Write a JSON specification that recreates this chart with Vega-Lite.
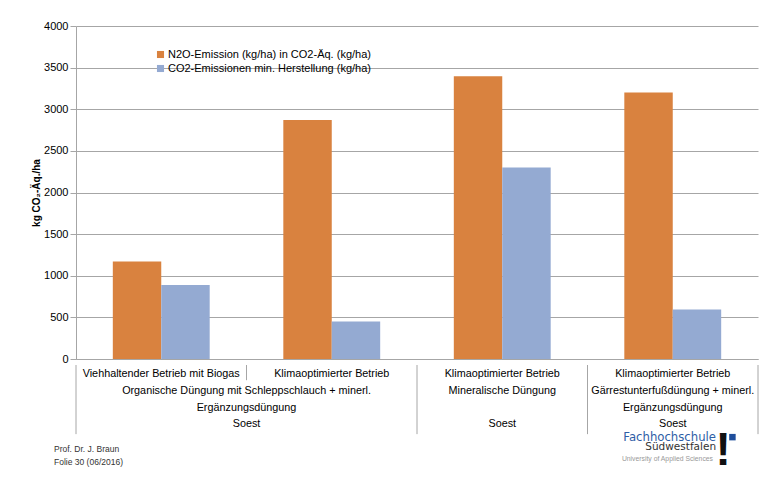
{
  "$schema": "https://vega.github.io/schema/vega-lite/v6.json",
  "padding": {"left": 31, "top": 20, "right": 10, "bottom": 2},
  "background": "white",
  "config": {
    "font": "Liberation Sans",
    "view": {"stroke": null},
    "concat": {"spacing": 0}
  },
  "vconcat": [
    {
      "width": 682,
      "height": 333,
      "data": {
        "values": [
          {"Gruppe": 1, "Serie": "N2O-Emission (kg/ha) in CO2-Äq. (kg/ha)", "Wert": 1170},
          {"Gruppe": 1, "Serie": "CO2-Emissionen min. Herstellung (kg/ha)", "Wert": 890},
          {"Gruppe": 2, "Serie": "N2O-Emission (kg/ha) in CO2-Äq. (kg/ha)", "Wert": 2870},
          {"Gruppe": 2, "Serie": "CO2-Emissionen min. Herstellung (kg/ha)", "Wert": 450},
          {"Gruppe": 3, "Serie": "N2O-Emission (kg/ha) in CO2-Äq. (kg/ha)", "Wert": 3395},
          {"Gruppe": 3, "Serie": "CO2-Emissionen min. Herstellung (kg/ha)", "Wert": 2300},
          {"Gruppe": 4, "Serie": "N2O-Emission (kg/ha) in CO2-Äq. (kg/ha)", "Wert": 3200},
          {"Gruppe": 4, "Serie": "CO2-Emissionen min. Herstellung (kg/ha)", "Wert": 595}
        ]
      },
      "mark": {"type": "bar"},
      "encoding": {
        "x": {
          "field": "Gruppe",
          "type": "ordinal",
          "scale": {"paddingInner": 0, "paddingOuter": 0},
          "axis": {"labels": false, "ticks": false, "title": null, "domainColor": "#a6a6a6", "domainWidth": 1}
        },
        "xOffset": {
          "field": "Serie",
          "type": "nominal",
          "sort": ["N2O-Emission (kg/ha) in CO2-Äq. (kg/ha)", "CO2-Emissionen min. Herstellung (kg/ha)"],
          "scale": {"paddingInner": 0, "paddingOuter": 0.76}
        },
        "y": {
          "field": "Wert",
          "type": "quantitative",
          "scale": {"domain": [0, 4000], "nice": false},
          "axis": {
            "title": "kg CO₂-Äq./ha",
            "titleFontSize": 10,
            "titleFontWeight": "bold",
            "titleColor": "#000000",
            "titlePadding": 2,
            "values": [0, 500, 1000, 1500, 2000, 2500, 3000, 3500, 4000],
            "format": "d",
            "labelFontSize": 11,
            "labelColor": "#000000",
            "labelPadding": 2,
            "tickSize": 6,
            "tickColor": "#a6a6a6",
            "domainColor": "#a6a6a6",
            "gridColor": "#a6a6a6",
            "grid": true
          }
        },
        "color": {
          "field": "Serie",
          "type": "nominal",
          "sort": ["N2O-Emission (kg/ha) in CO2-Äq. (kg/ha)", "CO2-Emissionen min. Herstellung (kg/ha)"],
          "scale": {"range": ["#d9823f", "#94aad2"]},
          "legend": {
            "title": null,
            "orient": "none",
            "legendX": 79,
            "legendY": 23,
            "symbolType": "square",
            "symbolSize": 50,
            "symbolStrokeWidth": 0,
            "labelFontSize": 11,
            "labelColor": "#000000",
            "labelOffset": 2,
            "labelLimit": 0,
            "rowPadding": 2
          }
        }
      }
    },
    {
      "width": 682,
      "height": 115,
      "layer": [
        {
          "data": {
            "values": [
              {"Grenze": 0, "von": 0.45, "bis": 4.59},
              {"Grenze": 1, "von": 0.45, "bis": 1.36},
              {"Grenze": 2, "von": 0.45, "bis": 4.59},
              {"Grenze": 3, "von": 0.45, "bis": 4.59},
              {"Grenze": 4, "von": 0.45, "bis": 4.59}
            ]
          },
          "mark": {"type": "rule", "color": "#a6a6a6", "strokeWidth": 1},
          "encoding": {
            "x": {"field": "Grenze", "type": "quantitative", "scale": {"domain": [0, 4], "nice": false, "zero": false}, "axis": null},
            "y": {"field": "von", "type": "quantitative", "scale": {"domain": [0.45, 7.336], "nice": false, "zero": false, "reverse": true}, "axis": null},
            "y2": {"field": "bis"}
          }
        },
        {
          "data": {
            "values": [
              {"Position": 0.5, "Zeile": 1, "Text": "Viehhaltender Betrieb mit Biogas"},
              {"Position": 1.5, "Zeile": 1, "Text": "Klimaoptimierter Betrieb"},
              {"Position": 2.5, "Zeile": 1, "Text": "Klimaoptimierter Betrieb"},
              {"Position": 3.5, "Zeile": 1, "Text": "Klimaoptimierter Betrieb"},
              {"Position": 1, "Zeile": 2, "Text": "Organische Düngung mit Schleppschlauch + minerl."},
              {"Position": 1, "Zeile": 3, "Text": "Ergänzungsdüngung"},
              {"Position": 2.5, "Zeile": 2, "Text": "Mineralische Düngung"},
              {"Position": 3.5, "Zeile": 2, "Text": "Gärrestunterfußdüngung + minerl."},
              {"Position": 3.5, "Zeile": 3, "Text": "Ergänzungsdüngung"},
              {"Position": 1, "Zeile": 4, "Text": "Soest"},
              {"Position": 2.5, "Zeile": 4, "Text": "Soest"},
              {"Position": 3.5, "Zeile": 4, "Text": "Soest"}
            ]
          },
          "mark": {"type": "text", "fontSize": 10.8, "color": "#000000", "baseline": "middle", "align": "center"},
          "encoding": {
            "x": {"field": "Position", "type": "quantitative"},
            "y": {"field": "Zeile", "type": "quantitative"},
            "text": {"field": "Text"}
          }
        },
        {
          "data": {
            "values": [
              {"Position": -0.129, "Zeile": 5.49, "Text": "Prof. Dr. J. Braun"},
              {"Position": -0.129, "Zeile": 6.27, "Text": "Folie 30 (06/2016)"}
            ]
          },
          "mark": {"type": "text", "fontSize": 8.5, "color": "#333333", "baseline": "middle", "align": "left"},
          "encoding": {
            "x": {"field": "Position", "type": "quantitative"},
            "y": {"field": "Zeile", "type": "quantitative"},
            "text": {"field": "Text"}
          }
        },
        {
          "data": {"values": [{"Position": 3.754, "Zeile": 4.98, "Text": "Fachhochschule"}]},
          "mark": {"type": "text", "fontSize": 11.7, "color": "#2f5ea6", "align": "right", "baseline": "alphabetic", "font": "DejaVu Sans"},
          "encoding": {
            "x": {"field": "Position", "type": "quantitative"},
            "y": {"field": "Zeile", "type": "quantitative"},
            "text": {"field": "Text"}
          }
        },
        {
          "data": {"values": [{"Position": 3.754, "Zeile": 5.56, "Text": "Südwestfalen"}]},
          "mark": {"type": "text", "fontSize": 10.5, "color": "#333333", "align": "right", "baseline": "alphabetic", "font": "DejaVu Sans"},
          "encoding": {
            "x": {"field": "Position", "type": "quantitative"},
            "y": {"field": "Zeile", "type": "quantitative"},
            "text": {"field": "Text"}
          }
        },
        {
          "data": {"values": [{"Position": 3.736, "Zeile": 6.09, "Text": "University of Applied Sciences"}]},
          "mark": {"type": "text", "fontSize": 6.8, "color": "#999999", "align": "right", "baseline": "middle"},
          "encoding": {
            "x": {"field": "Position", "type": "quantitative"},
            "y": {"field": "Zeile", "type": "quantitative"},
            "text": {"field": "Text"}
          }
        },
        {
          "data": {"values": [{"Position": 3.795, "Zeile": 5.58, "Text": "!"}]},
          "mark": {"type": "text", "fontSize": 46, "fontWeight": "bold", "color": "#111111", "align": "center", "baseline": "middle"},
          "encoding": {
            "x": {"field": "Position", "type": "quantitative"},
            "y": {"field": "Zeile", "type": "quantitative"},
            "text": {"field": "Text"}
          }
        },
        {
          "data": {"values": [{"Position": 3.85, "Zeile": 4.77}]},
          "mark": {"type": "square", "size": 42, "filled": true, "color": "#1f4e9c", "opacity": 1},
          "encoding": {
            "x": {"field": "Position", "type": "quantitative"},
            "y": {"field": "Zeile", "type": "quantitative"}
          }
        }
      ]
    }
  ],
  "resolve": {"scale": {"color": "independent"}}
}
